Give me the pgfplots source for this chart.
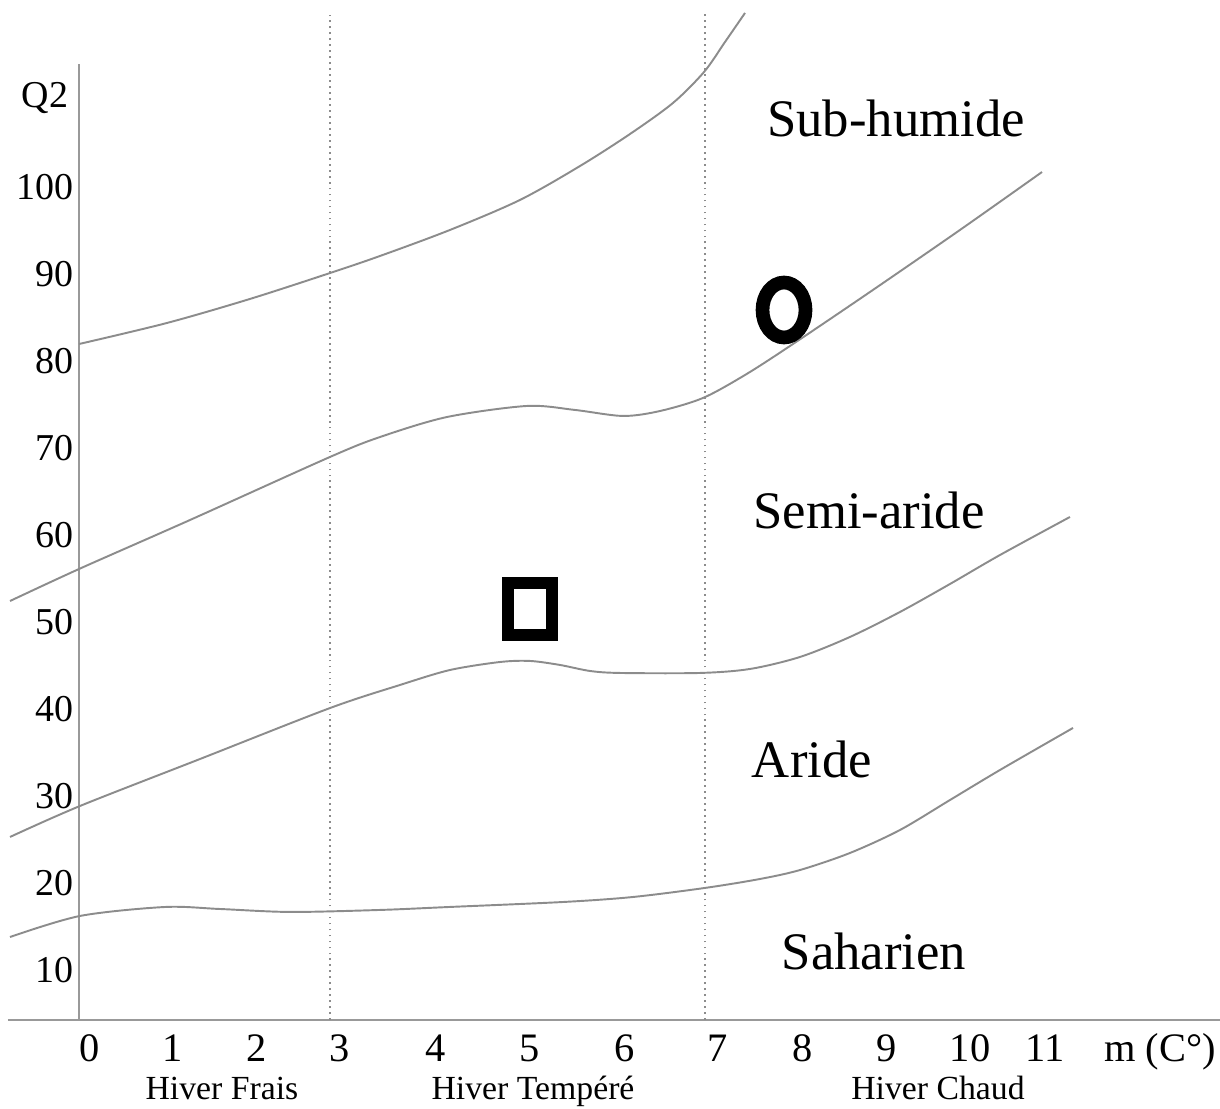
\documentclass[border=0pt]{standalone}
\usepackage{fontspec}
\setmainfont{Liberation Serif}
\usepackage{pgfplots}
\pgfplotsset{compat=1.18}
\definecolor{curvegray}{gray}{0.55}
\definecolor{axisgray}{gray}{0.6}
\definecolor{dotgray}{gray}{0.55}

\begin{document}
\begin{tikzpicture}
\begin{axis}[
  scale only axis,
  width=11.41cm, height=9.56cm,
  xmin=-0.1294, xmax=13.2941,
  ymin=4.253, ymax=114.138,
  clip=false,
  axis line style={draw=none},
  tick style={draw=none},
  major tick length=0pt,
  xtick={0,0.976,1.965,2.941,4.071,5.176,6.294,7.388,8.388,9.376,10.353,11.235},
  xticklabels={0,1,2,3,4,5,6,7,8,9,10,11},
  ytick={10,20,30,40,50,60,70,80,90,100},
  yticklabels={10,20,30,40,50,60,70,80,90,100},
  xticklabel style={anchor=base, yshift=-4.2mm, inner sep=0pt, font=\fontsize{11.5}{13}\selectfont},
  yticklabel style={anchor=east, xshift=-0.5mm, inner sep=0pt, font=\fontsize{10.8}{12}\selectfont},
  /pgf/number format/assume math mode=true,
]
% bounding box corners (full picture)
\coordinate (BL) at (axis cs:-1.0588,-5.977);
\coordinate (TR) at (axis cs:13.2941,121.494);

% axis lines
\draw[axisgray, line width=0.55pt] (axis cs:-0.9647,4.253) -- (axis cs:13.2941,4.253);
\draw[axisgray, line width=0.55pt] (axis cs:-0.1294,4.253) -- (axis cs:-0.1294,114.138);

% dotted winter separators
\addplot[dotgray, line width=0.5pt, dash pattern=on 0.5pt off 1.2pt] coordinates {(2.824,4.253) (2.824,119.77)};
\addplot[dotgray, line width=0.5pt, dash pattern=on 0.5pt off 1.2pt] coordinates {(7.235,4.253) (7.235,120.11)};

% bioclimatic limits
\addplot[curvegray, line width=0.55pt, smooth] coordinates {
(-0.129,81.95) (0.906,84.37) (1.882,87.13) (2.824,90.11) (3.412,92.07) (4.235,95.06) (5.059,98.51) (5.765,102.41) (6.353,106.09) (6.859,109.66) (7.224,113.22) (7.471,116.67) (7.706,120.0)};
\addplot[curvegray, line width=0.55pt, smooth] coordinates {
(-0.941,52.41) (-0.129,56.09) (1.176,61.72) (2.824,68.97) (3.412,71.26) (4.2,73.56) (5.141,74.83) (5.706,74.37) (6.271,73.68) (6.706,74.25) (7.212,75.75) (7.706,78.39) (8.235,81.72) (9.176,87.93) (10.235,95.06) (11.2,101.72)};
\addplot[curvegray, line width=0.55pt, smooth] coordinates {
(-0.941,25.29) (-0.118,28.85) (1.294,34.25) (2.824,40.11) (3.647,42.76) (4.235,44.48) (4.824,45.40) (5.176,45.52) (5.529,45.06) (5.882,44.37) (6.235,44.14) (7.176,44.14) (7.765,44.60) (8.353,45.98) (8.941,48.28) (9.529,51.15) (10.118,54.37) (10.706,57.70) (11.529,62.07)};
\addplot[curvegray, line width=0.55pt, smooth] coordinates {
(-0.941,13.79) (-0.118,16.21) (0.882,17.24) (1.529,17.01) (2.353,16.67) (3.412,16.90) (4.224,17.24) (5.576,17.82) (6.388,18.39) (7.235,19.43) (7.882,20.46) (8.353,21.49) (8.941,23.45) (9.529,26.09) (10.118,29.54) (10.706,32.99) (11.565,37.82)};

% stations
\addplot[only marks, mark=o, mark size=7.82pt, mark options={xscale=0.782, line width=3.9pt, draw=black}] coordinates {(8.165,85.86)};
\addplot[only marks, mark=square, mark size=7.4pt, mark options={xscale=0.846, line width=3.41pt, draw=black}] coordinates {(5.176,51.49)};

% zone labels
\node[anchor=base, font=\fontsize{15}{18}\selectfont] at (axis cs:9.482,105.75) {Sub-humide};
\node[anchor=base, font=\fontsize{15}{18}\selectfont] at (axis cs:9.165,60.69) {Semi-aride};
\node[anchor=base, font=\fontsize{15}{18}\selectfont] at (axis cs:8.494,32.18) {Aride};
\node[anchor=base, font=\fontsize{15}{18}\selectfont] at (axis cs:9.224,10.0) {Saharien};

% axis titles
\node[anchor=base, inner sep=0pt, font=\fontsize{10.8}{12}\selectfont] at (axis cs:-0.529,109.08) {Q2};
\node[anchor=base, inner sep=0pt, font=\fontsize{11.5}{13}\selectfont] at (axis cs:12.588,-0.575) {m (C°)};

% winter types
\node[anchor=base, inner sep=0pt, font=\fontsize{9.6}{11}\selectfont] at (axis cs:1.553,-4.94) {Hiver Frais};
\node[anchor=base, inner sep=0pt, font=\fontsize{9.6}{11}\selectfont] at (axis cs:5.212,-4.94) {Hiver Tempéré};
\node[anchor=base, inner sep=0pt, font=\fontsize{9.6}{11}\selectfont] at (axis cs:9.976,-4.94) {Hiver Chaud};
\end{axis}
\pgfresetboundingbox
\path (BL) rectangle (TR);
\end{tikzpicture}
\end{document}
